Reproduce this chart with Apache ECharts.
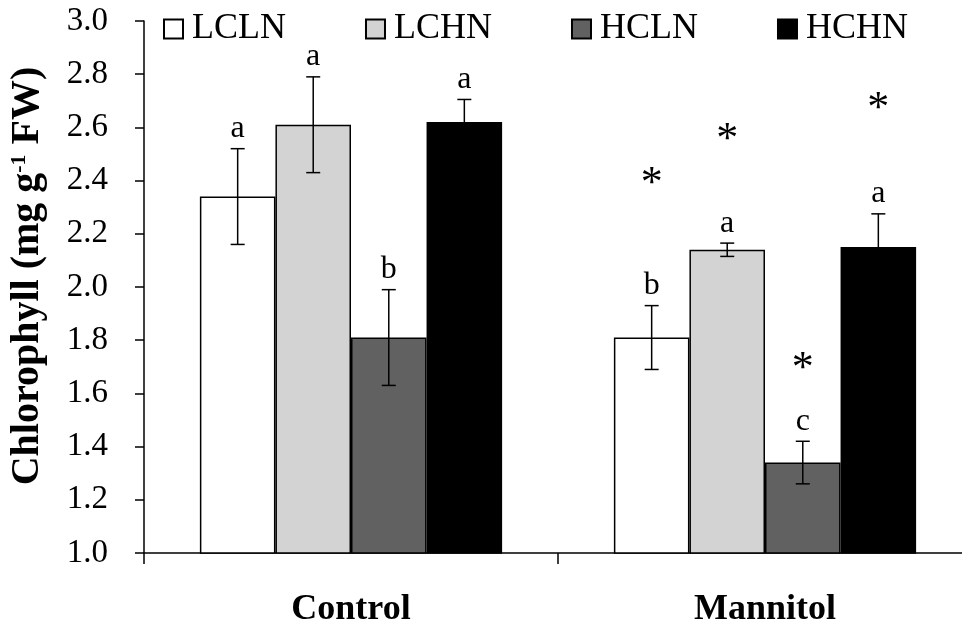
<!DOCTYPE html>
<html><head><meta charset="utf-8">
<script src="https://cdn.jsdelivr.net/npm/echarts@6/dist/echarts.min.js"></script>
<style>html,body{margin:0;padding:0;background:#fff;overflow:hidden;width:962px;height:628px}#c{width:984px;height:628px}</style>
</head><body><div id="c"></div>
<script>
// ---- data ----
const categories = ['Control', 'Mannitol'];
const seriesNames = ['LCLN', 'LCHN', 'HCLN', 'HCHN'];
const LCLN = [2.34, 1.81];
const LCHN = [2.61, 2.14];
const HCLN = [1.81, 1.34];
const HCHN = [2.62, 2.15];
const LCLN_err = [0.18, 0.12];
const LCHN_err = [0.18, 0.025];
const HCLN_err = [0.18, 0.08];
const HCHN_err = [0.085, 0.125];
const LCLN_letters = ['a', 'b'];
const LCHN_letters = ['a', 'a'];
const HCLN_letters = ['b', 'c'];
const HCHN_letters = ['a', 'a'];
// asterisk positions (value units), null = none
const LCLN_star = [null, 2.42];
const LCHN_star = [null, 2.585];
const HCLN_star = [null, 1.725];
const HCHN_star = [null, 2.70];
const yMin = 1.0, yMax = 3.0, yStep = 0.2;
const colors = ['#ffffff', '#d3d3d3', '#616161', '#000000'];

const values = [LCLN, LCHN, HCLN, HCHN];
const errs = [LCLN_err, LCHN_err, HCLN_err, HCHN_err];
const letters = [LCLN_letters, LCHN_letters, HCLN_letters, HCHN_letters];
const stars = [LCLN_star, LCHN_star, HCLN_star, HCHN_star];
const GAP = 0.27;
const FONT = '"Liberation Serif", "Times New Roman", serif';

const annData = [];
for (let s = 0; s < 4; s++) {
  for (let c = 0; c < categories.length; c++) {
    annData.push([c, s, values[s][c], errs[s][c], letters[s][c], stars[s][c] == null ? NaN : stars[s][c]]);
  }
}

const chart = echarts.init(document.getElementById('c'), null, {renderer: 'canvas'});
const barSeries = seriesNames.map((n, i) => ({
  name: n, type: 'bar', data: values[i],
  barGap: '0%', barCategoryGap: (GAP * 100) + '%',
  itemStyle: {color: colors[i], borderColor: '#000', borderWidth: 1.5},
  emphasis: {disabled: true}, z: 2
}));

const annSeries = {
  type: 'custom', data: annData, z: 5, silent: true,
  encode: {x: 0, y: 2},
  renderItem: function (params, api) {
    const c = api.value(0), s = api.value(1), v = api.value(2), e = api.value(3);
    const letter = annData[params.dataIndex][4];
    const star = api.value(5);
    const band = api.size([1, 0])[0];
    const bw = band * (1 - GAP) / 4;
    const x = api.coord([c, v])[0] + (s - 1.5) * bw;
    const yT = api.coord([c, v + e])[1];
    const yB = api.coord([c, v - e])[1];
    const cap = 7;
    const ls = {stroke: '#000', lineWidth: 1.5};
    const ch = [
      {type: 'line', shape: {x1: x, y1: yT, x2: x, y2: yB}, style: ls},
      {type: 'line', shape: {x1: x - cap, y1: yT, x2: x + cap, y2: yT}, style: ls},
      {type: 'line', shape: {x1: x - cap, y1: yB, x2: x + cap, y2: yB}, style: ls},
      {type: 'text', x: x, y: yT - 4, style: {text: letter, font: '32px ' + FONT, fill: '#000', align: 'center', verticalAlign: 'bottom'}}
    ];
    if (!isNaN(star)) {
      const ys = api.coord([c, star])[1];
      ch.push({type: 'text', x: x, y: ys + 9, style: {text: '*', font: '44px ' + FONT, fill: '#000', align: 'center', verticalAlign: 'middle'}});
    }
    return {type: 'group', children: ch};
  }
};

chart.setOption({
  animation: false,
  backgroundColor: '#ffffff',
  grid: {left: 144, top: 21, width: 828, height: 534, containLabel: false},
  legend: {
    data: seriesNames, left: 163, top: 11, padding: 0, itemWidth: 19, itemHeight: 19, itemGap: 79,
    icon: 'rect', selectedMode: false,
    textStyle: {fontFamily: FONT, fontSize: 36, color: '#000', padding: [0, 0, 0, 4]}
  },
  xAxis: {
    type: 'category', data: categories,
    axisLine: {lineStyle: {color: '#000', width: 1.5}},
    axisTick: {show: true, length: 11, lineStyle: {color: '#000', width: 1.5}},
    axisLabel: {fontFamily: FONT, fontWeight: 'bold', fontSize: 36, color: '#000', margin: 39}
  },
  yAxis: {
    type: 'value', min: yMin, max: yMax, interval: yStep,
    splitLine: {show: false},
    axisLine: {show: true, lineStyle: {color: '#000', width: 1.5}},
    axisTick: {show: true, length: 9, lineStyle: {color: '#000', width: 1.5}},
    axisLabel: {fontFamily: FONT, fontSize: 33, color: '#000', margin: 36, formatter: v => v.toFixed(1)}
  },
  graphic: [{
    type: 'text', x: 28, y: 276, rotation: Math.PI / 2,
    style: {
      text: '{b|Chlorophyll (mg g}{s|-1}{b| FW)}',
      align: 'center', verticalAlign: 'middle',
      rich: {
        b: {fontFamily: FONT, fontWeight: 'bold', fontSize: 40, fill: '#000', lineHeight: 40},
        s: {fontFamily: FONT, fontWeight: 'bold', fontSize: 22, fill: '#000', verticalAlign: 'top'}
      }
    }
  }],
  series: [...barSeries, annSeries]
});
</script></body></html>
